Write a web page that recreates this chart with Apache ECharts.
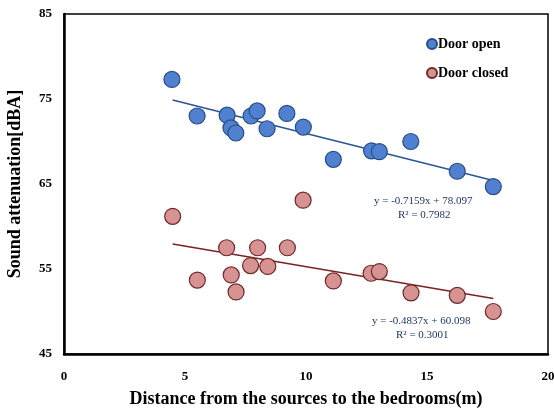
<!DOCTYPE html>
<html><head><meta charset="utf-8">
<script src="https://cdn.jsdelivr.net/npm/echarts@6/dist/echarts.min.js"></script>
<style>html,body{margin:0;padding:0;background:#fff}#c{width:554px;height:410px}</style>
</head><body><div id="c"></div>
<script>
var openX = [4.46, 5.50, 6.74, 6.90, 7.10, 7.73, 7.98, 8.39, 9.21, 9.89, 11.13, 12.71, 13.03, 14.33, 16.25, 17.74];
var openY = [77.3, 73.0, 73.1, 71.6, 71.0, 73.0, 73.6, 71.5, 73.3, 71.7, 67.9, 68.9, 68.8, 70.0, 66.5, 64.7];
var closedX = [4.49, 5.51, 6.72, 6.91, 7.11, 7.71, 8.00, 8.42, 9.23, 9.88, 11.13, 12.69, 13.03, 14.34, 16.25, 17.74];
var closedY = [61.2, 53.7, 57.5, 54.3, 52.3, 55.4, 57.5, 55.3, 57.5, 63.1, 53.6, 54.5, 54.7, 52.2, 51.9, 50.0];
var trendOpenX = [4.49, 17.74];
var trendOpenY = [74.88, 65.40];
var trendClosedX = [4.49, 17.74];
var trendClosedY = [57.93, 51.52];
var xTicks = [0, 5, 10, 15, 20];
var yTicks = [45, 55, 65, 75, 85];
var seriesNames = ['Door open', 'Door closed'];
var eqOpen = ['y = -0.7159x + 78.097', 'R² = 0.7982'];
var eqClosed = ['y = -0.4837x + 60.098', 'R² = 0.3001'];

function zip(a, b) { return a.map(function (v, i) { return [v, b[i]]; }); }
var serif = '"Liberation Serif", "DejaVu Serif", serif';
var chart = echarts.init(document.getElementById('c'));
chart.setOption({
  animation: false,
  backgroundColor: '#fff',
  grid: { left: 64, right: 6, top: 14, bottom: 56, outerBoundsMode: 'none', containLabel: false,
          show: true, borderColor: '#000', borderWidth: 1.5 },
  legend: {
    data: seriesNames.map(function (n) { return { name: n, icon: 'circle' }; }),
    orient: 'vertical', left: 421, top: 32, itemWidth: 10, itemHeight: 10, itemGap: 15,
    textStyle: { fontFamily: serif, fontWeight: 'bold', fontSize: 14, color: '#000', padding: [0, 0, 0, -4] }
  },
  xAxis: {
    type: 'value', min: 0, max: 20, interval: 5,
    name: 'Distance from the sources to the bedrooms(m)', nameLocation: 'middle', nameGap: 36,
    nameTextStyle: { fontFamily: serif, fontWeight: 'bold', fontSize: 18, color: '#000' },
    axisLine: { show: true, lineStyle: { color: '#000', width: 2.5 } },
    axisTick: { show: false }, splitLine: { show: false },
    axisLabel: { fontFamily: serif, fontWeight: 'bold', fontSize: 13, color: '#000', margin: 16,
                 formatter: function (v) { return xTicks.indexOf(v) >= 0 ? String(v) : ''; } }
  },
  yAxis: {
    type: 'value', min: 45, max: 85, interval: 10,
    name: 'Sound attenuation[dBA]', nameLocation: 'middle', nameGap: 40,
    nameTextStyle: { fontFamily: serif, fontWeight: 'bold', fontSize: 18, color: '#000' },
    axisLine: { show: true, lineStyle: { color: '#000', width: 2.5 } },
    axisTick: { show: false }, splitLine: { show: false },
    axisLabel: { fontFamily: serif, fontWeight: 'bold', fontSize: 13, color: '#000', margin: 12,
                 formatter: function (v) { return yTicks.indexOf(v) >= 0 ? String(v) : ''; } }
  },
  series: [
    { name: seriesNames[0], type: 'scatter', data: zip(openX, openY), symbolSize: 16, z: 3,
      itemStyle: { color: '#4f81d0', borderColor: '#2b4c85', borderWidth: 1.2, opacity: 1 } },
    { name: seriesNames[1], type: 'scatter', data: zip(closedX, closedY), symbolSize: 16, z: 3,
      itemStyle: { color: '#d69392', borderColor: '#6e2828', borderWidth: 1.2, opacity: 1 } },
    { name: 'trendOpen', type: 'line', data: zip(trendOpenX, trendOpenY), symbol: 'none', z: 2,
      lineStyle: { color: '#2a5597', width: 1.5 } },
    { name: 'trendClosed', type: 'line', data: zip(trendClosedX, trendClosedY), symbol: 'none', z: 2,
      lineStyle: { color: '#7a2222', width: 1.5 } }
  ],
  graphic: [
    { type: 'text', left: 374, top: 196, z: 10, style: { text: eqOpen[0], font: '11px ' + serif, fill: '#1f3864' } },
    { type: 'text', left: 398, top: 210, z: 10, style: { text: eqOpen[1], font: '11px ' + serif, fill: '#1f3864' } },
    { type: 'text', left: 372, top: 316, z: 10, style: { text: eqClosed[0], font: '11px ' + serif, fill: '#1f3864' } },
    { type: 'text', left: 396, top: 330, z: 10, style: { text: eqClosed[1], font: '11px ' + serif, fill: '#1f3864' } }
  ]
});
</script></body></html>
